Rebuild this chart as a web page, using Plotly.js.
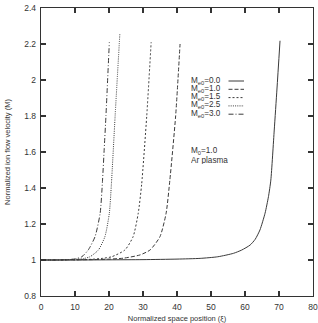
<!DOCTYPE html>
<html>
<head>
<meta charset="utf-8">
<script src="https://cdn.plot.ly/plotly-3.0.1.min.js"></script>
<style>html,body{margin:0;padding:0;background:#fff;}#chart{width:318px;height:323px;}</style>
</head>
<body>
<div id="chart"></div>
<script>
// Series labels (M_e0 values)
const seriesNames = ["M<sub>e0</sub>=0.0", "M<sub>e0</sub>=1.0", "M<sub>e0</sub>=1.5", "M<sub>e0</sub>=2.5", "M<sub>e0</sub>=3.0"];

// M_e0 = 0.0 (solid)
const xMe00 = [0, 10, 20, 30, 40, 46.8, 52, 56.6, 59, 61.5, 63, 64.4, 65.9, 66.9, 67.6, 68.6, 69.4, 70.3];
const yMe00 = [1, 1, 1.001, 1.002, 1.005, 1.009, 1.018, 1.037, 1.055, 1.083, 1.115, 1.167, 1.26, 1.352, 1.444, 1.722, 1.95, 2.218];

// M_e0 = 1.0 (dashed)
const xMe10 = [0, 10, 15, 20, 24.2, 29.1, 32.1, 35.0, 36.8, 37.9, 39.6, 40.9];
const yMe10 = [1, 1.001, 1.002, 1.005, 1.01, 1.028, 1.056, 1.13, 1.26, 1.444, 1.8, 2.2];

// M_e0 = 1.5 (short dashes)
const xMe15 = [0, 10, 15, 18, 20.8, 24.7, 27.1, 28.6, 29.6, 31.1, 32.4];
const yMe15 = [1, 1.001, 1.004, 1.009, 1.018, 1.056, 1.13, 1.26, 1.42, 1.8, 2.21];

// M_e0 = 2.5 (fine dots)
const xMe25 = [0, 5, 10, 12.5, 14.4, 16.9, 18.8, 20.1, 20.7, 21.8, 23.2];
const yMe25 = [1, 1, 1.004, 1.008, 1.018, 1.056, 1.13, 1.26, 1.42, 1.8, 2.26];

// M_e0 = 3.0 (dash-dot)
const xMe30 = [0, 5, 8, 10, 12.0, 13.9, 15.9, 17.4, 18.1, 18.6, 19.1, 20.1];
const yMe30 = [1, 1, 1.002, 1.006, 1.018, 1.056, 1.13, 1.26, 1.444, 1.62, 1.8, 2.21];

// Axis ticks
const xTicks = [0, 10, 20, 30, 40, 50, 60, 70, 80];
const yTicks = [0.8, 1, 1.2, 1.4, 1.6, 1.8, 2, 2.2, 2.4];

const xs = [xMe00, xMe10, xMe15, xMe25, xMe30];
const ys = [yMe00, yMe10, yMe15, yMe25, yMe30];
const dashes = ["solid", "4px,2px", "2px,2px", "1px,1.2px", "5px,2px,1px,2px"];
const lineColor = "#3a3a3a";
const FONT = "Liberation Sans, Arial, sans-serif";

const traces = xs.map((x, i) => ({
  x: x, y: ys[i], type: "scatter", mode: "lines", name: seriesNames[i],
  line: {color: lineColor, width: 1, dash: dashes[i], shape: "spline", smoothing: 0.6},
  showlegend: false, hoverinfo: "skip"
}));

// custom legend: text then sample line
const legX = 190, legTextY0 = 80.5, legStep = 8.3;
const plotL = 41, plotR = 313, plotT = 8, plotB = 296;
const px = v => (v - plotL) / (plotR - plotL);
const py = v => (plotB - v) / (plotB - plotT);

const annotations = seriesNames.map((n, i) => ({
  xref: "paper", yref: "paper", x: px(legX), y: py(legTextY0 + i * legStep),
  xanchor: "left", yanchor: "middle", text: n, showarrow: false, height: 8, borderpad: 0,
  font: {family: FONT, size: 8.2, color: "#333"}
}));
annotations.push({xref: "paper", yref: "paper", x: px(legX), y: py(151), xanchor: "left", yanchor: "middle",
  text: "M<sub>0</sub>=1.0", showarrow: false, height: 8, borderpad: 0, font: {family: FONT, size: 8.2, color: "#333"}});
annotations.push({xref: "paper", yref: "paper", x: px(legX), y: py(160), xanchor: "left", yanchor: "middle",
  text: "Ar plasma", showarrow: false, height: 8, borderpad: 0, font: {family: FONT, size: 8.2, color: "#333"}});

const shapes = seriesNames.map((n, i) => ({
  type: "line", xref: "paper", yref: "paper",
  x0: px(228.5), x1: px(244), y0: py(legTextY0 + i * legStep + 0.5), y1: py(legTextY0 + i * legStep + 0.5),
  line: {color: lineColor, width: 1, dash: dashes[i]}
}));

const axisCommon = {
  showline: true, linecolor: "#333", linewidth: 1.3, mirror: "ticks",
  ticks: "inside", ticklen: 5, tickwidth: 1.3, tickcolor: "#333",
  showgrid: false, zeroline: false,
  tickfont: {family: FONT, size: 8.5, color: "#333"}
};

const layout = {
  width: 318, height: 323,
  margin: {l: 41, r: 5, t: 8, b: 27},
  paper_bgcolor: "#fff", plot_bgcolor: "#fff",
  showlegend: false,
  xaxis: Object.assign({}, axisCommon, {
    range: [0, 80], tickvals: xTicks, ticktext: xTicks.map(String), ticklabelstandoff: 2,
    title: {text: "Normalized space position (ξ)", standoff: 6,
      font: {family: FONT, size: 7.5, color: "#333"}}
  }),
  yaxis: Object.assign({}, axisCommon, {
    range: [0.8, 2.4], tickvals: yTicks, ticktext: yTicks.map(String), ticklabelstandoff: 2,
    title: {text: "Normalized ion flow velocity (M)", standoff: 12,
      font: {family: FONT, size: 7.5, color: "#333"}}
  }),
  annotations: annotations,
  shapes: shapes
};

Plotly.newPlot("chart", traces, layout, {displayModeBar: false, staticPlot: true});
</script>
</body>
</html>
